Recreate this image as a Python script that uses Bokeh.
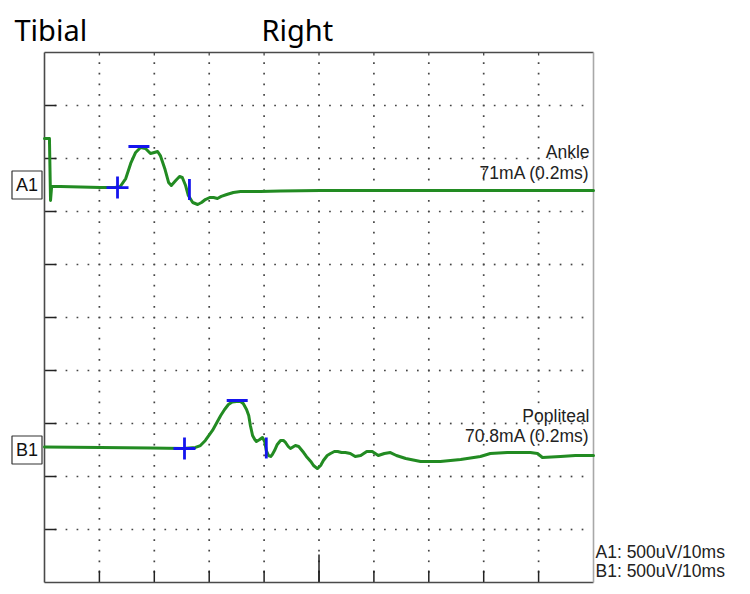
from bokeh.plotting import figure
from bokeh.models import Range1d, Label
from bokeh.embed import file_html
from bokeh.resources import INLINE
import math

# ---------------- data ----------------
# time axis in ms (10 ms / div), amplitude in uV (500 uV / div)
x_ticks = [0, 10, 20, 30, 40, 50, 60, 70, 80, 90, 100]
y_ticks = [0, 500, 1000, 1500, 2000, 2500, 3000, 3500, 4000, 4500, 5000]
x_minor = 2      # ms between grid dots
y_minor = 100    # uV between grid dots

# channel baselines (uV on the screen scale)
a1_offset = 3750
b1_offset = 1250

# A1 : Ankle stimulation
a1_t = [0, 0.9, 1.1, 1.3, 2.9, 6.6, 10.2, 12.9, 13.8, 14.8, 15.7, 16.6, 17.5, 18.4,
        19.3, 20.0, 20.6, 21.1, 21.9, 22.6, 23.1, 23.9, 24.6, 25.1, 25.7, 26.2, 27.0,
        27.9, 28.6, 29.3, 30.1, 30.8, 31.5, 32.2, 33.2, 34.4, 35.7, 37.5, 39.3, 43.0,
        50.3, 64.9, 83.1, 100]
a1_uv = [439, 439, -146, -14, -14, -19, -24, -24, -14, 61, 203, 307, 354, 344,
         297, 307, 316, 278, 156, 24, -5, 42, 80, 71, -5, -99, -165,
         -184, -165, -137, -118, -118, -127, -108, -90, -71, -61, -61, -61, -57,
         -52, -52, -52, -52]
# cursors: onset (+), peak (-), end (|)
a1_mark_t = [13.3, 17.2, 26.4]
a1_mark_uv = [-24, 363, -42]

# B1 : Popliteal stimulation
b1_t = [0, 10.2, 19.3, 25.3, 27.5, 28.4, 29.3, 30.6, 31.3, 32.1, 32.8, 33.5, 34.2, 35.0,
        35.7, 36.2, 36.8, 37.2, 37.5, 37.9, 38.3, 38.6, 39.2, 39.7, 40.1, 40.4, 40.8,
        41.2, 41.5, 41.9, 42.4, 43.0, 43.5, 43.9, 44.4, 44.8, 45.4, 45.7, 46.3, 46.6,
        47.2, 47.7, 48.5, 49.0, 49.7, 50.3, 50.8, 51.5, 52.1, 52.8, 53.4, 54.1, 54.8,
        55.7, 56.6, 57.6, 58.7, 59.7, 60.8, 61.9, 63.0, 64.1, 65.8, 68.5, 72.1, 75.8,
        79.4, 81.2, 84.3, 88.5, 89.8, 90.7, 94.0, 96.7, 100]
b1_uv = [28, 24, 19, 14, 24, 42, 90, 184, 250, 325, 382, 429, 453, 458,
         458, 439, 382, 325, 231, 137, 99, 80, 99, 118, 80, -5, -52,
         -61, -42, -5, 52, 90, 90, 71, 33, 14, 33, 42, 33, 14,
         -24, -61, -108, -146, -175, -146, -99, -52, -33, -14, -14, -24, -24,
         -33, -61, -52, -14, -14, -52, -33, -24, -52, -80, -108, -108, -90,
         -61, -33, -24, -24, -33, -71, -61, -52, -52]
b1_mark_t = [25.5, 35.1, 40.4]
b1_mark_uv = [14, 467, 19]

title_left = "Tibial"
title_mid = "Right"
a1_site = "Ankle"
a1_stim = "71mA (0.2ms)"
b1_site = "Popliteal"
b1_stim = "70.8mA (0.2ms)"
a1_scale = "A1: 500uV/10ms"
b1_scale = "B1: 500uV/10ms"

# ---------------- layout constants ----------------
W, H = 740, 590
BOX_L, BOX_B = 44, 582           # pixel position of the screen box (left, bottom)
PX_MS = 5.49                     # pixels per ms
PX_UV = 53 / 500                 # pixels per uV

def px_x(px):
    return (px - BOX_L) / PX_MS

def px_y(py):
    return (BOX_B - py) / PX_UV

GREEN = "#228b22"
BLUE = "#1515ee"
FONT_T = "Noto Sans"
FONT_S = "Liberation Sans"

p = figure(width=W, height=H, output_backend="svg", toolbar_location=None,
           x_range=Range1d(px_x(0), px_x(W)), y_range=Range1d(px_y(H), px_y(0)),
           min_border=0)
p.min_border_left = p.min_border_right = p.min_border_top = p.min_border_bottom = 0
p.axis.visible = False
p.grid.visible = False
p.outline_line_color = None
p.background_fill_color = "white"
p.border_fill_color = "white"

x0, x1 = x_ticks[0], x_ticks[-1]
y0, y1 = y_ticks[0], y_ticks[-1]

# grid dots (at minor subdivisions along every major line)
dx, dy = [], []
n_x = int(round((x1 - x0) / x_minor))
n_y = int(round((y1 - y0) / y_minor))
for yt in y_ticks[1:-1]:
    for k in range(1, n_x):
        dx.append(x0 + k * x_minor)
        dy.append(yt)
for xt in x_ticks[1:-1]:
    for k in range(1, n_y):
        dx.append(xt)
        dy.append(y0 + k * y_minor)
p.scatter(dx, dy, marker="square", size=1.7, fill_color="#444444", line_color=None)

# tick marks
tick_ms = 12 / PX_MS
tick_uv = 12 / PX_UV
p.segment(x0=[x0] * (len(y_ticks) - 2), y0=y_ticks[1:-1],
          x1=[x0 + tick_ms] * (len(y_ticks) - 2), y1=y_ticks[1:-1],
          line_color="#222222", line_width=1.5)
p.segment(x0=x_ticks[1:-1], y0=[y0] * (len(x_ticks) - 2),
          x1=x_ticks[1:-1], y1=[y0 + tick_uv] * (len(x_ticks) - 2),
          line_color="#222222", line_width=1.5)
mid = x_ticks[len(x_ticks) // 2]
p.segment(x0=[mid], y0=[y0], x1=[mid], y1=[y0 + 28 / PX_UV],
          line_color="#222222", line_width=1.5)
p.segment(x0=x_ticks[1:-1], y0=[y1] * (len(x_ticks) - 2),
          x1=x_ticks[1:-1], y1=[y1 - 3 / PX_UV] * (len(x_ticks) - 2),
          line_color="#444444", line_width=1.3)

# screen frame
p.segment(x0=[x0, x0, x0], y0=[y0, y0, y1], x1=[x0, x1, x1], y1=[y1, y0, y1],
          line_color="#4a4a4a", line_width=1.6)
p.segment(x0=[x1], y0=[y0], x1=[x1], y1=[y1], line_color="#a8a8a8", line_width=1.6)

# traces
p.line(a1_t, [v + a1_offset for v in a1_uv], line_color=GREEN,
       line_width=3, line_join="round", line_cap="round")
p.line(b1_t, [v + b1_offset for v in b1_uv], line_color=GREEN,
       line_width=3, line_join="round", line_cap="round")

# cursors
for mt, mv, off in ((a1_mark_t, a1_mark_uv, a1_offset), (b1_mark_t, b1_mark_uv, b1_offset)):
    p.scatter([mt[0]], [mv[0] + off], marker="cross", size=22, line_color=BLUE, line_width=2.8)
    p.scatter([mt[1]], [mv[1] + off], marker="dash", size=21, line_color=BLUE, line_width=2.8)
    p.scatter([mt[2]], [mv[2] + off], marker="dash", size=21, angle=math.pi / 2,
              line_color=BLUE, line_width=2.8)

# ---------------- texts ----------------
p.add_layout(Label(x=px_x(14), y=px_y(29), text=title_left, text_font=FONT_T,
                   text_font_size="29px", text_color="black", text_baseline="alphabetic"))
p.add_layout(Label(x=px_x(261), y=px_y(29), text=title_mid, text_font=FONT_T,
                   text_font_size="29px", text_color="black", text_baseline="alphabetic"))

for txt, py in ((a1_site, 151), (a1_stim, 172), (b1_site, 415), (b1_stim, 435)):
    p.add_layout(Label(x=px_x(589), y=px_y(py), text=txt, text_font=FONT_S,
                       text_font_size="17.5px", text_color="#222222",
                       text_align="right", text_baseline="alphabetic"))

for txt, py in ((a1_scale, 551), (b1_scale, 570)):
    p.add_layout(Label(x=px_x(595), y=px_y(py), text=txt, text_font=FONT_S,
                       text_font_size="17.5px", text_color="#222222",
                       text_align="left", text_baseline="alphabetic"))

for txt, off in (("A1", a1_offset), ("B1", b1_offset)):
    p.add_layout(Label(x=px_x(26.5), y=off, text=txt, text_font=FONT_S,
                       text_font_size="18px", text_color="#111111",
                       text_align="center", text_baseline="middle",
                       border_line_color="#333333", border_line_width=1.2,
                       background_fill_color="white", padding=4))

open("out.html", "w").write(file_html(p, INLINE))
